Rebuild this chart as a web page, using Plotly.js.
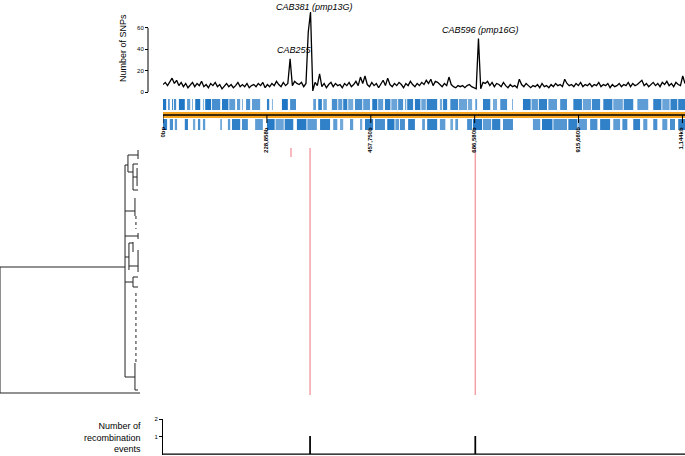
<!DOCTYPE html>
<html>
<head>
<meta charset="utf-8">
<script src="https://cdn.plot.ly/plotly-3.0.1.min.js"></script>
<style>html,body{margin:0;padding:0;background:#fff}</style>
</head>
<body>
<div id="myDiv" style="width:685px;height:456px"></div>
<script>
// ---- data ----
// SNPs per 5 kb window along the chromosome
var windowKb = 5;
var snpCount = [
  7, 9, 6, 10, 13, 8, 11, 6, 9, 5, 8,
  4, 7, 9, 5, 8, 6, 10, 5, 7, 4,
  8, 6, 9, 5, 7, 3, 6, 8, 5, 7,
  4, 6, 9, 5, 7, 5, 8, 4, 6, 7,
  5, 8, 6, 9, 4, 7, 5, 8, 6, 10,
  7, 5, 9, 6, 8, 31, 6, 10, 8, 7,
  9, 5, 8, 56, 75, 1, 9, 6, 17, 5,
  8, 4, 7, 9, 5, 8, 6, 7, 4, 8,
  6, 9, 5, 7, 10, 6, 14, 8, 15, 7,
  5, 9, 6, 8, 4, 7, 11, 6, 13, 7,
  5, 8, 6, 9, 7, 4, 8, 6, 10, 7,
  5, 8, 6, 9, 7, 11, 8, 12, 6, 10,
  9, 7, 5, 8, 6, 14, 7, 5, 4, 6,
  5, 6, 4, 6, 7, 5, 4, 3, 50, 3,
  9, 8, 10, 6, 9, 5, 8, 7, 5, 9,
  6, 4, 7, 5, 6, 4, 12, 7, 5, 8,
  6, 4, 6, 5, 7, 4, 8, 5, 6, 4,
  7, 5, 8, 6, 7, 5, 12, 8, 6, 7,
  5, 8, 6, 9, 5, 7, 6, 8, 5, 7,
  6, 9, 5, 7, 6, 8, 4, 7, 5, 6,
  8, 5, 7, 6, 9, 5, 8, 6, 7, 9,
  11, 6, 8, 5, 7, 9, 6, 8, 5, 9,
  7, 10, 6, 8, 5, 9, 7, 6, 15, 8
];
var peakLabel = ['CAB255', 'CAB381 (pmp13G)', 'CAB596 (pmp16G)'];
var peakKb = [280, 325, 690];
var peakSnps = [31, 75, 50];

// chromosome ticks
var chromTickKb = [0, 228.9, 457.8, 686.6, 915.5, 1144.4];
var chromTickLabel = ['0bp', '228,858b', '457,750b', '686,580b', '915,660b', '1,144kb'];

// genes, + strand (upper row) and - strand (lower row), kb
var geneUpStart = [0, 11, 20, 24, 35, 53, 64, 71, 88, 93, 108, 130, 146, 163, 174, 183, 196, 229, 240, 262, 280, 331, 342, 353, 372, 386, 397, 408, 423, 441, 461, 474, 489, 503, 518, 533, 538, 555, 569, 581, 610, 617, 633, 652, 672, 688, 705, 727, 743, 769, 793, 812, 828, 849, 875, 904, 925, 945, 970, 992, 1015, 1045, 1080, 1100, 1118, 1135];
var geneUpEnd   = [7, 15, 22, 29, 48, 60, 66, 82, 90, 106, 126, 144, 159, 170, 176, 192, 214, 234, 242, 275, 293, 337, 350, 361, 384, 395, 406, 419, 439, 456, 472, 485, 501, 516, 529, 536, 551, 567, 579, 604, 615, 626, 650, 670, 681, 692, 721, 736, 758, 771, 810, 826, 846, 868, 890, 923, 943, 963, 990, 1013, 1036, 1069, 1098, 1116, 1133, 1150];
var geneUpAlpha = [0.9, 0.6, 0.8, 0.7, 0.9, 0.6, 0.5, 0.9, 0.5, 0.9, 0.7, 0.85, 0.6, 0.6, 0.5, 0.7, 0.6, 0.8, 0.5, 0.9, 0.7, 0.6, 0.8, 0.5, 0.7, 0.6, 0.8, 0.5, 0.7, 0.6, 0.85, 0.6, 0.8, 0.55, 0.7, 0.5, 0.8, 0.85, 0.55, 0.8, 0.5, 0.8, 0.75, 0.55, 0.5, 0.6, 0.8, 0.5, 0.7, 0.5, 0.85, 0.6, 0.8, 0.6, 0.7, 0.8, 0.55, 0.75, 0.8, 0.55, 0.75, 0.6, 0.8, 0.55, 0.8, 0.8];

var geneDownStart = [0, 15, 26, 48, 66, 77, 88, 126, 143, 152, 174, 203, 229, 248, 268, 295, 318, 346, 375, 390, 412, 434, 445, 467, 494, 512, 522, 540, 571, 582, 610, 633, 644, 670, 683, 705, 725, 749, 815, 835, 860, 893, 915, 941, 963, 992, 1012, 1036, 1058, 1080, 1100, 1117, 1135];
var geneDownEnd   = [9, 22, 31, 55, 71, 82, 93, 130, 148, 170, 187, 220, 246, 266, 287, 316, 339, 368, 384, 397, 419, 439, 463, 489, 510, 520, 533, 555, 577, 604, 622, 639, 650, 681, 703, 723, 743, 771, 831, 858, 890, 913, 934, 957, 985, 1007, 1023, 1051, 1067, 1089, 1111, 1128, 1150];
var geneDownAlpha = [0.8, 0.7, 0.6, 0.8, 0.5, 0.7, 0.6, 0.5, 0.6, 0.8, 0.7, 0.6, 0.85, 0.55, 0.8, 0.85, 0.6, 0.8, 0.6, 0.5, 0.6, 0.5, 0.8, 0.7, 0.85, 0.6, 0.7, 0.8, 0.6, 0.8, 0.6, 0.5, 0.6, 0.7, 0.85, 0.6, 0.8, 0.7, 0.6, 0.85, 0.65, 0.8, 0.6, 0.7, 0.8, 0.6, 0.7, 0.8, 0.6, 0.7, 0.6, 0.7, 0.8];

// recombination sites (kb) and the strain ranks (tree order) they cover
var recombKb = [282, 324, 688];
var recombRankTop = [2, 2, 2];
var recombRankBottom = [11, 249, 249];
// recombination events per site
var eventKb = [324, 688];
var eventCount = [1, 1];

// dendrogram: vertical segments (distance, rank from, rank to)
var treeVx  = [0,   0.893, 0.914, 0.986, 0.95, 0.979, 0.964, 0.986, 0.921, 0.95, 0.986, 0.95, 0.964];
var treeVy0 = [121, 19,    9,     4,     18,   22,    52,    87,    97,    96,   104,   131,  217];
var treeVy1 = [247, 231,   26,    13,    44,   40,    70,    93,    124,   106,  126,   141,  244];
// horizontal segments (rank, distance from, distance to)
var treeHy  = [121, 247, 19,    9,     26,    18,   44,   31,   65,    90,    111,   97,    120,   136,   131,  141,  231,   244];
var treeHx0 = [0,   0,   0.893, 0.914, 0.914, 0.95, 0.95, 0.95, 0.893, 0.893, 0.893, 0.921, 0.921, 0.893, 0.95, 0.95, 0.893, 0.964];
var treeHx1 = [0.893, 1.0, 0.914, 0.986, 0.95, 0.986, 0.986, 0.979, 0.964, 0.986, 0.921, 0.95, 0.986, 0.95, 0.986, 0.986, 0.964, 0.986];
// near-identical leaves shown as dotted columns (distance, rank from, rank to)
var leafColX = [0.971, 0.971];
var leafColY0 = [70, 147];
var leafColY1 = [83, 217];

// ---- helpers ----
function py(p) { return 1 - p / 456; }
function px(p) { return p / 685; }
var font = 'Liberation Sans, Arial, sans-serif';
var kbMax = 1150;
var snpTop = 86.2;

// SNP trace
var snpKb = [];
for (var i = 0; i < snpCount.length; i++) snpKb.push(i * windowKb);

var data = [];
data.push({
  x: snpKb, y: snpCount, type: 'scatter', mode: 'lines',
  line: {color: '#000', width: 1.3}, xaxis: 'x', yaxis: 'y', hoverinfo: 'skip'
});

// genes
function geneTrace(st, en, al, base, h) {
  var cx = [], w = [], yy = [], bb = [], op = [];
  for (var k = 0; k < st.length; k++) {
    cx.push((st[k] + en[k]) / 2);
    w.push(en[k] - st[k]);
    yy.push(h);
    bb.push(base);
    op.push(Math.min(1, al[k] + 0.12));
  }
  return {
    type: 'bar', x: cx, y: yy, base: bb, width: w,
    marker: {color: '#1f76c4', opacity: op, line: {width: 0}},
    xaxis: 'x2', yaxis: 'y2', hoverinfo: 'skip'
  };
}
data.push(geneTrace(geneUpStart, geneUpEnd, geneUpAlpha, 21, 11));
data.push(geneTrace(geneDownStart, geneDownEnd, geneDownAlpha, 1, 11));

// dendrogram
var tx = [], ty = [];
for (var k = 0; k < treeVx.length; k++) {
  tx.push(treeVx[k], treeVx[k], null);
  ty.push(treeVy0[k], treeVy1[k], null);
}
for (var k = 0; k < treeHy.length; k++) {
  tx.push(treeHx0[k], treeHx1[k], null);
  ty.push(treeHy[k], treeHy[k], null);
}
data.push({
  x: tx, y: ty, type: 'scatter', mode: 'lines',
  line: {color: '#222', width: 1}, xaxis: 'x3', yaxis: 'y3', hoverinfo: 'skip'
});
var lx = [], ly = [];
for (var k = 0; k < leafColX.length; k++) {
  lx.push(leafColX[k], leafColX[k], null);
  ly.push(leafColY0[k], leafColY1[k], null);
}
data.push({
  x: lx, y: ly, type: 'scatter', mode: 'lines',
  line: {color: '#222', width: 1, dash: 'dot'}, xaxis: 'x3', yaxis: 'y3', hoverinfo: 'skip'
});

// recombination sites across strains
var rx = [], ry = [];
for (var k = 0; k < recombKb.length; k++) {
  rx.push(recombKb[k], recombKb[k], null);
  ry.push(recombRankTop[k], recombRankBottom[k], null);
}
data.push({
  x: rx, y: ry, type: 'scatter', mode: 'lines',
  line: {color: '#f4a2a7', width: 1.5}, xaxis: 'x4', yaxis: 'y4', hoverinfo: 'skip'
});

// recombination events count
var ex = [0], ey = [0];
for (var k = 0; k < eventKb.length; k++) {
  ex.push(eventKb[k] - 0.5, eventKb[k] - 0.5, eventKb[k] + 0.5, eventKb[k] + 0.5);
  ey.push(0, eventCount[k], eventCount[k], 0);
}
ex.push(kbMax); ey.push(0);
data.push({
  x: ex, y: ey, type: 'scatter', mode: 'lines',
  line: {color: '#000', width: 1.3}, xaxis: 'x5', yaxis: 'y5', hoverinfo: 'skip'
});

// ---- layout ----
var hidden = {visible: false, showgrid: false, zeroline: false, fixedrange: true};
var trackX = [px(163), 1];

var shapes = [];
// SNP y axis line (0 to 60)
shapes.push({type: 'line', xref: 'paper', yref: 'y', x0: px(148), x1: px(148), y0: 0, y1: 60,
  line: {color: '#000', width: 1}});
// chromosome bar
shapes.push({type: 'rect', xref: 'paper', yref: 'y2', x0: px(163), x1: 1, y0: 13, y1: 19,
  fillcolor: '#f7a420', line: {width: 0}, layer: 'above'});
shapes.push({type: 'line', xref: 'paper', yref: 'y2', x0: px(163), x1: 1, y0: 16, y1: 16,
  line: {color: '#000', width: 1.5}, layer: 'above'});
for (var k = 0; k < chromTickKb.length; k++) {
  shapes.push({type: 'line', xref: 'x2', yref: 'y2', x0: chromTickKb[k], x1: chromTickKb[k], y0: 16, y1: 8,
    line: {color: '#000', width: 1}, layer: 'above'});
}

var annotations = [];
for (var k = 0; k < peakLabel.length; k++) {
  // keep the tallest label inside the top edge
  var nearTop = peakSnps[k] > 0.8 * snpTop;
  annotations.push({
    xref: 'x', yref: 'y', x: peakKb[k], y: peakSnps[k], text: '<i>' + peakLabel[k] + '</i>',
    showarrow: false, xanchor: 'center', yanchor: 'bottom', xshift: 4, yshift: nearTop ? -1 : 3,
    borderpad: 0,
    font: {family: font, size: 9, color: '#000'}
  });
}
for (var k = 0; k < chromTickKb.length; k++) {
  annotations.push({
    xref: 'x2', yref: 'paper', x: chromTickKb[k], y: py(125), text: '<b>' + chromTickLabel[k] + '</b>',
    showarrow: false, textangle: -90, xanchor: 'center', yanchor: 'top', xshift: -1,
    font: {family: font, size: 6, color: '#000'}
  });
}
annotations.push({
  xref: 'paper', yref: 'paper', x: px(123), y: py(48), text: 'Number of SNPs',
  showarrow: false, textangle: -90, xanchor: 'center', yanchor: 'middle',
  font: {family: font, size: 9, color: '#000'}
});
annotations.push({
  xref: 'paper', yref: 'paper', x: px(143), y: py(437), text: 'Number of<br>recombination<br>events',
  showarrow: false, align: 'right', xanchor: 'right', yanchor: 'middle',
  font: {family: font, size: 9, color: '#000'}
});

var layout = {
  width: 685, height: 456,
  margin: {l: 0, r: 0, t: 0, b: 0},
  paper_bgcolor: '#fff', plot_bgcolor: 'rgba(0,0,0,0)',
  showlegend: false, barmode: 'overlay',
  font: {family: font, color: '#000'},
  xaxis: Object.assign({}, hidden, {domain: trackX, range: [0, kbMax], anchor: 'y'}),
  yaxis: {domain: [py(92), 1], range: [0, snpTop], anchor: 'free', position: px(148),
    showline: false, showgrid: false, zeroline: false, ticks: 'outside', ticklen: 3, tickwidth: 1,
    tickcolor: '#000', tickvals: [0, 20, 40, 60], tickfont: {family: font, size: 6, color: '#000'}},
  xaxis2: Object.assign({}, hidden, {domain: trackX, range: [0, kbMax], anchor: 'y2'}),
  yaxis2: Object.assign({}, hidden, {domain: [py(131), py(97)], range: [0, 34], anchor: 'x2'}),
  xaxis3: Object.assign({}, hidden, {domain: [0, px(142)], range: [0, 1.0143], anchor: 'y3'}),
  yaxis3: Object.assign({}, hidden, {domain: [py(398), py(146)], range: [252, 0], anchor: 'x3'}),
  xaxis4: Object.assign({}, hidden, {domain: trackX, range: [0, kbMax], anchor: 'y4'}),
  yaxis4: Object.assign({}, hidden, {domain: [py(398), py(146)], range: [252, 0], anchor: 'x4'}),
  xaxis5: Object.assign({}, hidden, {domain: trackX, range: [0, kbMax], anchor: 'y5'}),
  yaxis5: {domain: [py(455), py(419)], range: [-0.05, 2], anchor: 'x5',
    showline: true, linecolor: '#000', linewidth: 1, showgrid: false, zeroline: false,
    ticks: 'outside', ticklen: 3, tickcolor: '#000', tickvals: [1, 2],
    tickfont: {family: font, size: 6, color: '#000'}},
  shapes: shapes,
  annotations: annotations
};

Plotly.newPlot('myDiv', data, layout, {staticPlot: true});
</script>
</body>
</html>
